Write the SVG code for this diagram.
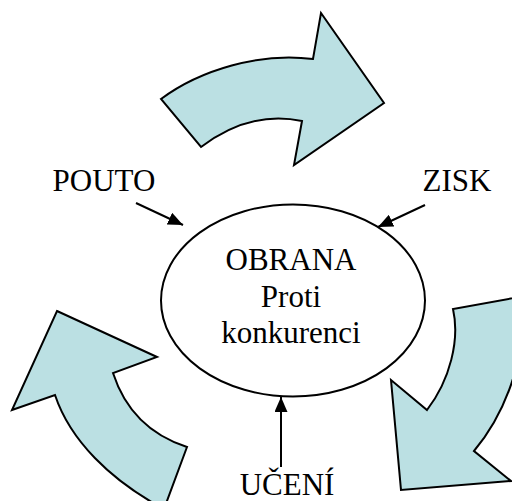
<svg xmlns="http://www.w3.org/2000/svg" width="512" height="501" viewBox="0 0 512 501">
<style>
.blk{fill:#BBE0E3;stroke:#000;stroke-width:2;stroke-linejoin:miter}
.lbl{font-family:"Liberation Serif","Times New Roman",serif;font-size:31px;fill:#000;text-anchor:middle}
.con{stroke:#000;stroke-width:2;fill:none;marker-end:url(#ah)}
</style>
<defs>
<marker id="ah" viewBox="0 0 10 10" refX="10" refY="5" markerWidth="15" markerHeight="13" markerUnits="userSpaceOnUse" orient="auto" preserveAspectRatio="none">
<path d="M0,0 L10,5 L0,10 Z" fill="#000"/>
</marker>
</defs>
<rect width="512" height="501" fill="#fff"/>
<g id="arrow-top">
<path class="blk" d="M161,99 C200,70 260,52 313,59 L321,13 L384,103 L294,165 L302,121 Q250,110 201,147 Z"/>
</g>
<g id="arrow-right">
<path class="blk" d="M453,309 C460,340 450,380 427,410 L391,380 L401,490 L511,481 L474,451 C500,420 525,370 525,296 Z"/>
</g>
<g id="arrow-left">
<path class="blk" d="M57,311 L157,357 L113,373 C125,410 150,435 187,447 L164,509 C110,480 70,440 55,395 L12,410 Z"/>
</g>
<g id="center">
<ellipse cx="293" cy="300.5" rx="132" ry="96" fill="#fff" stroke="#000" stroke-width="2"/>
<text class="lbl" x="291" y="270">OBRANA</text>
<text class="lbl" x="291" y="307">Proti</text>
<text class="lbl" x="291" y="343">konkurenci</text>
</g>
<g id="pouto"><text class="lbl" x="104" y="191">POUTO</text></g>
<g id="zisk"><text class="lbl" x="457" y="191">ZISK</text></g>
<g id="uceni"><text class="lbl" x="287" y="495">UČENÍ</text></g>
<g id="connectors">
<line class="con" x1="136" y1="203" x2="183" y2="225"/>
<line class="con" x1="425" y1="205" x2="378" y2="227"/>
<line class="con" x1="281" y1="467" x2="281" y2="397"/>
</g>
</svg>
